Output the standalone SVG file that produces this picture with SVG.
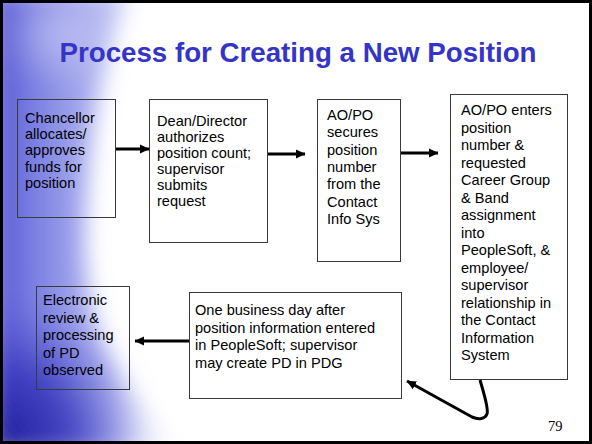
<svg xmlns="http://www.w3.org/2000/svg" width="592" height="444" viewBox="0 0 592 444">
  <defs>
    <linearGradient id="swoosh" x1="0" y1="0" x2="1" y2="0">
      <stop offset="0" stop-color="#5252d2"/>
      <stop offset="0.22" stop-color="#7b7fe2"/>
      <stop offset="0.6" stop-color="#bcc0f2"/>
      <stop offset="1" stop-color="#ffffff" stop-opacity="0"/>
    </linearGradient>
    <radialGradient id="deep" cx="0" cy="444" r="150" gradientUnits="userSpaceOnUse">
      <stop offset="0" stop-color="#1e1e9a"/>
      <stop offset="0.5" stop-color="#3434bc" stop-opacity="0.8"/>
      <stop offset="1" stop-color="#5a5ad6" stop-opacity="0"/>
    </radialGradient>
    <radialGradient id="haze" cx="55" cy="35" r="55" gradientUnits="userSpaceOnUse">
      <stop offset="0" stop-color="#ffffff" stop-opacity="0.35"/>
      <stop offset="1" stop-color="#ffffff" stop-opacity="0"/>
    </radialGradient>
    <filter id="soft" x="-30%" y="-10%" width="160%" height="120%">
      <feGaussianBlur stdDeviation="11"/>
    </filter>
    <marker id="head" markerUnits="userSpaceOnUse" markerWidth="10" markerHeight="10" viewBox="0 0 10 10" refX="9" refY="5" orient="auto">
      <path d="M0,0.5 L9.5,5 L0,9.5 Z" fill="#000"/>
    </marker>
    <style>
      .box { fill: none; stroke: #3a3a3a; stroke-width: 1; }
      .label { font-family: "Liberation Sans", Arial, sans-serif; font-size: 14.6px; fill: #000; }
      .title { font-family: "Liberation Sans", Arial, sans-serif; font-size: 27.7px; font-weight: bold; fill: #3434c8; }
      .page { font-family: "Liberation Serif", "Times New Roman", serif; font-size: 14.5px; fill: #000; }
      .arrow { fill: none; stroke: #000; stroke-width: 3; marker-end: url(#head); }
    </style>
  </defs>

  <!-- slide background with the soft blue swoosh on the left -->
  <rect x="0" y="0" width="592" height="444" fill="#ffffff"/>
  <g filter="url(#soft)">
    <path d="M-10,-10 L130,-10 C100,60 85,160 85,250 C88,330 120,400 190,454 L-10,454 Z" fill="url(#swoosh)"/>
    <rect x="-10" y="250" width="200" height="204" fill="url(#deep)"/>
    <rect x="0" y="0" width="120" height="100" fill="url(#haze)"/>
  </g>
  <rect x="1.5" y="1.5" width="589" height="441" fill="none" stroke="#000" stroke-width="3"/>

  <text class="title" x="298" y="62" text-anchor="middle">Process for Creating a New Position</text>

  <g id="chancellor">
    <rect class="box" x="17.5" y="99.5" width="98" height="118"/>
    <text class="label" x="25" y="123">
      <tspan x="25">Chancellor</tspan>
      <tspan x="25" dy="16.2">allocates/</tspan>
      <tspan x="25" dy="16.2">approves</tspan>
      <tspan x="25" dy="16.2">funds for</tspan>
      <tspan x="25" dy="16.2">position</tspan>
    </text>
  </g>

  <g id="dean">
    <rect class="box" x="149.5" y="99.5" width="118" height="143"/>
    <text class="label" x="157" y="126">
      <tspan x="157">Dean/Director</tspan>
      <tspan x="157" dy="16">authorizes</tspan>
      <tspan x="157" dy="16">position count;</tspan>
      <tspan x="157" dy="16">supervisor</tspan>
      <tspan x="157" dy="16">submits</tspan>
      <tspan x="157" dy="16">request</tspan>
    </text>
  </g>

  <g id="secure">
    <rect class="box" x="317.5" y="99.5" width="83" height="162"/>
    <text class="label" x="327" y="120">
      <tspan x="327">AO/PO</tspan>
      <tspan x="327" dy="17.3">secures</tspan>
      <tspan x="327" dy="17.3">position</tspan>
      <tspan x="327" dy="17.3">number</tspan>
      <tspan x="327" dy="17.3">from the</tspan>
      <tspan x="327" dy="17.3">Contact</tspan>
      <tspan x="327" dy="17.3">Info Sys</tspan>
    </text>
  </g>

  <g id="enter">
    <rect class="box" x="450.5" y="94.5" width="117" height="285"/>
    <text class="label" x="461" y="115">
      <tspan x="461">AO/PO enters</tspan>
      <tspan x="461" dy="17.5">position</tspan>
      <tspan x="461" dy="17.5">number &amp;</tspan>
      <tspan x="461" dy="17.5">requested</tspan>
      <tspan x="461" dy="17.5">Career Group</tspan>
      <tspan x="461" dy="17.5">&amp; Band</tspan>
      <tspan x="461" dy="17.5">assignment</tspan>
      <tspan x="461" dy="17.5">into</tspan>
      <tspan x="461" dy="17.5">PeopleSoft, &amp;</tspan>
      <tspan x="461" dy="17.5">employee/</tspan>
      <tspan x="461" dy="17.5">supervisor</tspan>
      <tspan x="461" dy="17.5">relationship in</tspan>
      <tspan x="461" dy="17.5">the Contact</tspan>
      <tspan x="461" dy="17.5">Information</tspan>
      <tspan x="461" dy="17.5">System</tspan>
    </text>
  </g>

  <g id="create-pd">
    <rect class="box" x="189.5" y="292.5" width="212" height="106"/>
    <text class="label" x="195" y="315">
      <tspan x="195">One business day after</tspan>
      <tspan x="195" dy="17.5">position information entered</tspan>
      <tspan x="195" dy="17.5">in PeopleSoft; supervisor</tspan>
      <tspan x="195" dy="17.5">may create PD in PDG</tspan>
    </text>
  </g>

  <g id="review">
    <rect class="box" x="36.5" y="286.5" width="93" height="103"/>
    <text class="label" x="43" y="305">
      <tspan x="43">Electronic</tspan>
      <tspan x="43" dy="17.5">review &amp;</tspan>
      <tspan x="43" dy="17.5">processing</tspan>
      <tspan x="43" dy="17.5">of PD</tspan>
      <tspan x="43" dy="17.5">observed</tspan>
    </text>
  </g>

  <g id="connectors">
    <line class="arrow" x1="116" y1="149" x2="149" y2="149"/>
    <line class="arrow" x1="268" y1="154" x2="305" y2="154"/>
    <line class="arrow" x1="401" y1="153" x2="438" y2="153"/>
    <line class="arrow" x1="189" y1="341" x2="135" y2="341"/>
    <path class="arrow" d="M480,380 C484,394 489,409 487,414 C485,419 479,420 472,417 L407,381"/>
  </g>

  <text class="page" x="548" y="431">79</text>
</svg>
